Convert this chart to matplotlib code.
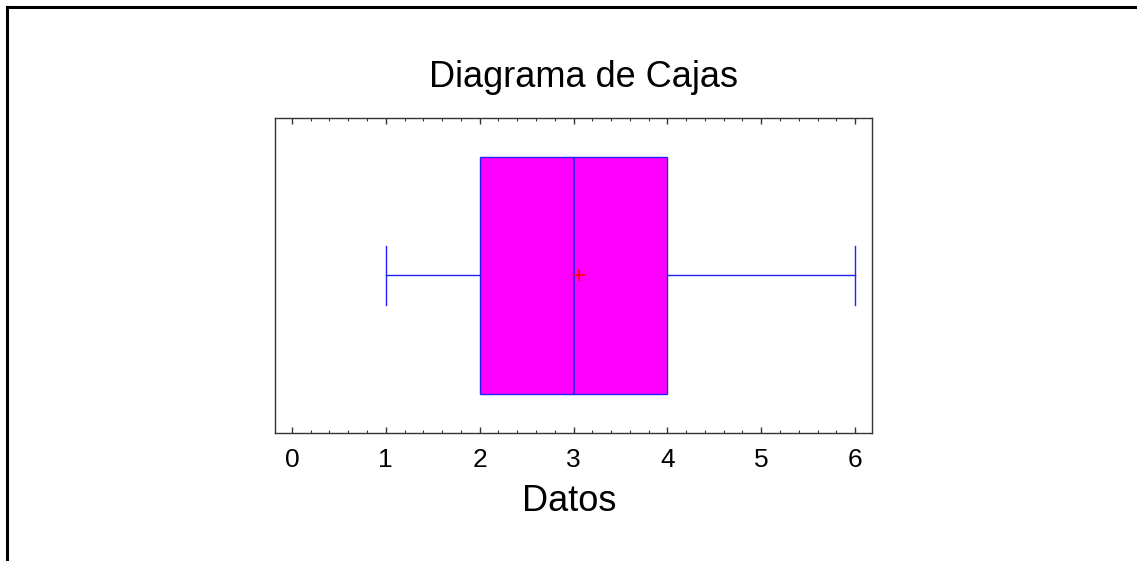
import matplotlib
matplotlib.use("Agg")
import matplotlib.pyplot as plt
from matplotlib.lines import Line2D
from matplotlib.ticker import MultipleLocator

# Data (five-number summary + mean)
labels = ["Datos"]
whisker_low = [1.0]
q1 = [2.0]
median = [3.0]
q3 = [4.0]
whisker_high = [6.0]
mean = [3.06]
xticks = [0, 1, 2, 3, 4, 5, 6]

plt.rcParams['font.family'] = ['Liberation Sans', 'DejaVu Sans']

fig = plt.figure(figsize=(11.37, 5.61), dpi=100)
ax = fig.add_axes([0.2419, 0.2282, 0.5250, 0.5615])

stats = [dict(label=labels[i], whislo=whisker_low[i], q1=q1[i], med=median[i],
              q3=q3[i], whishi=whisker_high[i], mean=mean[i], fliers=[])
         for i in range(len(labels))]

blue = '#2020FF'
ax.bxp(stats, positions=[0.5], widths=0.755, vert=False, patch_artist=True,
       showmeans=True, showfliers=False,
       boxprops=dict(facecolor='#FF00FF', edgecolor=blue, linewidth=1.0),
       medianprops=dict(color=blue, linewidth=1.2),
       whiskerprops=dict(color=blue, linewidth=1.0),
       capprops=dict(color=blue, linewidth=1.0),
       capwidths=0.19,
       meanprops=dict(marker='+', markeredgecolor='#FF0000', markersize=8,
                      markeredgewidth=1.2))

ax.set_xlim(-0.18, 6.18)
ax.set_ylim(0, 1)
ax.set_yticks([])
ax.set_xticks(xticks)
ax.set_xticklabels([str(t) for t in xticks], fontsize=19)
ax.xaxis.set_minor_locator(MultipleLocator(0.2))
ax.tick_params(axis='x', which='both', direction='in', top=True, bottom=True,
               color='#333333')
ax.tick_params(axis='x', which='major', length=4.5, width=1.0, pad=10.5)
ax.tick_params(axis='x', which='minor', length=2.2, width=0.8)
for s in ax.spines.values():
    s.set_color('#333333')
    s.set_linewidth(1.0)

fig.text(0.513, 0.845, "Diagrama de Cajas", ha='center', va='baseline', fontsize=26)
fig.text(0.5005, 0.0897, "Datos", ha='center', va='baseline', fontsize=26)

# Outer frame lines (left and top) of the original graphic
fig.add_artist(Line2D([0.0062, 0.0062], [0.0, 0.9875], transform=fig.transFigure,
                      color='black', linewidth=2.2))
fig.add_artist(Line2D([0.0062, 1.0], [0.9875, 0.9875], transform=fig.transFigure,
                      color='black', linewidth=2.2))

fig.savefig("out.png", dpi=100)
